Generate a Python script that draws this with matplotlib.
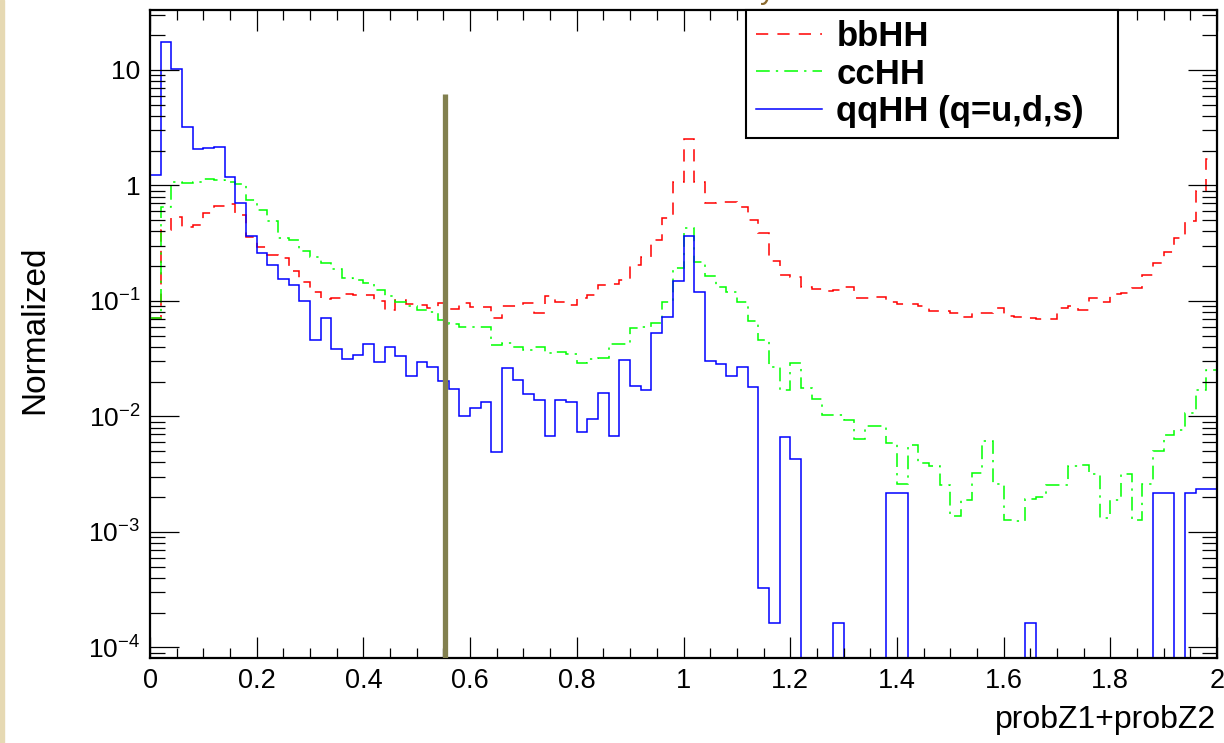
import matplotlib
matplotlib.use("Agg")
import matplotlib.pyplot as plt
from matplotlib.lines import Line2D
from matplotlib.patches import Rectangle
from matplotlib.ticker import FixedLocator, LogLocator, MultipleLocator, NullFormatter
import numpy as np

plt.rcParams["font.family"] = ["Liberation Sans", "DejaVu Sans"]
plt.rcParams["mathtext.fontset"] = "custom"
plt.rcParams["mathtext.rm"] = "Liberation Sans"

# 100 bins of probZ1+probZ2 on [0, 2], normalized
bin_edges = np.linspace(0.0, 2.0, 101)

bbHH = [0.071, 0.412, 0.537, 0.44, 0.455, 0.574, 0.666, 0.69, 0.556, 0.356,
        0.29, 0.25, 0.234, 0.18, 0.147, 0.12, 0.104, 0.107, 0.115, 0.113,
        0.113, 0.1, 0.0836, 0.101, 0.0935, 0.092, 0.0865, 0.0955, 0.0848, 0.0955,
        0.088, 0.088, 0.0708, 0.0905, 0.0905, 0.0955, 0.078, 0.11, 0.0987, 0.0923,
        0.107, 0.113, 0.136, 0.139, 0.152, 0.205, 0.242, 0.337, 0.52, 1.06,
        2.51, 1.08, 0.71, 0.724, 0.724, 0.647, 0.502, 0.385, 0.222, 0.166,
        0.162, 0.131, 0.128, 0.123, 0.125, 0.131, 0.107, 0.107, 0.109, 0.0987,
        0.0935, 0.0935, 0.0905, 0.081, 0.081, 0.078, 0.0723, 0.078, 0.078, 0.0865,
        0.0733, 0.0723, 0.071, 0.0693, 0.0693, 0.0865, 0.0905, 0.0836, 0.105, 0.0987,
        0.115, 0.117, 0.129, 0.168, 0.212, 0.264, 0.349, 0.487, 0.895, 1.69]

ccHH = [0.071, 0.656, 1.08, 1.05, 1.08, 1.13, 1.12, 1.08, 1.02, 0.748,
        0.613, 0.487, 0.353, 0.337, 0.273, 0.242, 0.212, 0.188, 0.157, 0.152,
        0.142, 0.124, 0.11, 0.0987, 0.0905, 0.0836, 0.0797, 0.0684, 0.063, 0.06,
        0.059, 0.059, 0.0416, 0.043, 0.0402, 0.0377, 0.0402, 0.0353, 0.036, 0.035,
        0.029, 0.0315, 0.0318, 0.0422, 0.0422, 0.058, 0.059, 0.064, 0.097, 0.192,
        0.43, 0.219, 0.163, 0.131, 0.12, 0.0987, 0.0676, 0.046, 0.027, 0.0168,
        0.0288, 0.0175, 0.0141, 0.0103, 0.0103, 0.0093, 0.00635, 0.00828, 0.00828, 0.00594,
        0.00259, 0.00567, 0.00394, 0.00373, 0.00255, 0.00136, 0.00189, 0.00322, 0.00618, 0.00259,
        0.00127, 0.00125, 0.00193, 0.002, 0.00254, 0.00254, 0.00375, 0.0038, 0.00318, 0.00131,
        0.00189, 0.0032, 0.00127, 0.00259, 0.00502, 0.00692, 0.00763, 0.0107, 0.017, 0.025]

qqHH = [1.23, 17.6, 10.2, 3.23, 2.07, 2.1, 2.15, 1.18, 0.70, 0.366,
        0.259, 0.205, 0.154, 0.136, 0.100, 0.046, 0.0716, 0.0384, 0.0313, 0.0337,
        0.0422, 0.0294, 0.0402, 0.0334, 0.0224, 0.0297, 0.0270, 0.0204, 0.0174, 0.0101,
        0.0119, 0.0132, 0.00495, 0.0264, 0.0206, 0.0157, 0.0139, 0.00682, 0.0139, 0.0133,
        0.0074, 0.00944, 0.0158, 0.00682, 0.0306, 0.0184, 0.0168, 0.0532, 0.0731, 0.149,
        0.367, 0.120, 0.0304, 0.0285, 0.0226, 0.0270, 0.0179, 0.000325, 0.000162, 0.0066,
        0.00431, 0, 0, 0, 0.000162, 0, 0, 0, 0, 0.00219,
        0.00219, 0, 0, 0, 0, 0, 0, 0, 0, 0,
        0, 0, 0.000162, 0, 0, 0, 0, 0, 0, 0,
        0, 0, 0, 0, 0.00219, 0.00219, 0, 0.00219, 0.00234, 0.00234]

labels = ["bbHH", "ccHH", "qqHH (q=u,d,s)"]
cut_x = 0.553
cut_top = 6.2

fig = plt.figure(figsize=(12.24, 7.43), dpi=100)
fig.patches.append(Rectangle((0, 0), 4 / 1224, 1, transform=fig.transFigure,
                             color="#e6d9b3", zorder=0))
ax = fig.add_axes([150 / 1224, 1 - 658 / 743, 1067 / 1224, 648 / 743])

floor = 1e-9  # empty bins drawn down to the bottom of the frame, like ROOT
styles = [
    dict(color="#ff0000", linestyle=(0, (8, 6))),
    dict(color="#00ff00", linestyle=(0, (9, 4, 1.5, 4))),
    dict(color="#0000ff", linestyle="-"),
]
for vals, st in zip([bbHH, ccHH, qqHH], styles):
    v = np.asarray(vals, dtype=float)
    v = np.where(v > 0, v, floor)
    ax.stairs(v, bin_edges, baseline=floor, fill=False, linewidth=1.1, **st)

ax.plot([cut_x, cut_x], [floor, cut_top], color="#82804f", linewidth=3.8,
        solid_capstyle="butt", zorder=5)

ax.set_yscale("log")
ax.set_xlim(0, 2)
ax.set_ylim(8.1e-5, 33)

xt = np.arange(0, 2.01, 0.2)
ax.set_xticks(xt)
ax.set_xticklabels(["0"] + [f"{t:g}" for t in xt[1:]])
ax.xaxis.set_minor_locator(MultipleLocator(0.05))

ydec = [1e-4, 1e-3, 1e-2, 1e-1, 1, 10]
ylab = [r"$\mathregular{10^{-4}}$", r"$\mathregular{10^{-3}}$", r"$\mathregular{10^{-2}}$",
        r"$\mathregular{10^{-1}}$", "1", "10"]
ax.yaxis.set_major_locator(FixedLocator(ydec))
ax.set_yticklabels(ylab)
ax.yaxis.set_minor_locator(LogLocator(base=10, subs=np.arange(2, 10), numticks=20))
ax.yaxis.set_minor_formatter(NullFormatter())

ax.tick_params(axis="both", which="both", direction="in", top=True, right=True,
               colors="black", width=0.9)
ax.tick_params(axis="x", which="major", length=15, pad=7, labelsize=19.5)
ax.tick_params(axis="x", which="minor", length=7.5)
ax.tick_params(axis="y", which="major", length=21, pad=7, labelsize=19)
ax.tick_params(axis="y", which="minor", length=10.5)
for sp in ax.spines.values():
    sp.set_linewidth(1.6)

handles = [Line2D([], [], linewidth=1.1, **st) for st in styles]
leg = ax.legend(handles, labels, loc="upper left",
                bbox_to_anchor=(596 / 1067, 0, 372 / 1067, 1.0), mode="expand",
                borderaxespad=0, prop={"family": "Liberation Sans", "weight": "bold", "size": 25},
                handlelength=1.9, handletextpad=0.4, labelspacing=0.12,
                borderpad=0.3, fancybox=False, framealpha=1, edgecolor="black")
leg.get_frame().set_linewidth(1.5)

fig.text(35 / 1224, 1 - 330 / 743, "Normalized", rotation=90, ha="center", va="center",
         fontsize=24)
fig.text(1216 / 1224, 1 - 720 / 743, "probZ1+probZ2", ha="right", va="center", fontsize=23)
# tail of the cropped title at the top edge
fig.text(768 / 1224, 1 + 1.5 / 743, "y", ha="center", va="baseline", fontsize=22,
         color="#8b6a2f")

fig.savefig("out.png", dpi=100)
